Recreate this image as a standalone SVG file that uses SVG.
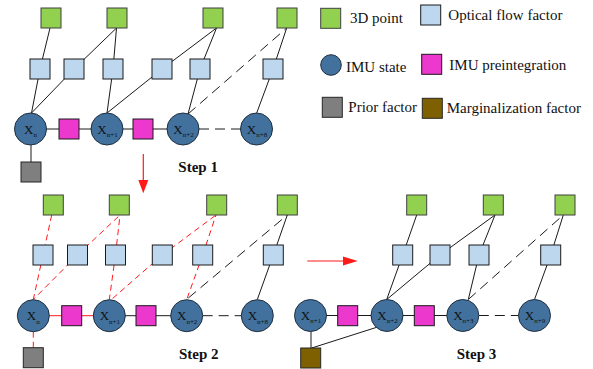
<svg xmlns="http://www.w3.org/2000/svg" width="593" height="369" viewBox="0 0 593 369">
<style>
.pt{fill:#92d050;stroke:#404040;stroke-width:1}
.of{fill:#bdd7ee;stroke:#1a1a1a;stroke-width:1}
.st{fill:#41719c;stroke:#1f2f40;stroke-width:1}
.pi{fill:#ec38cc;stroke:#1a1a1a;stroke-width:1}
.pr{fill:#7f7f7f;stroke:#262626;stroke-width:1}
.mg{fill:#7f6000;stroke:#262626;stroke-width:1}
.lbl{font-family:"Liberation Serif","Times New Roman",serif;font-size:13px;fill:#111;text-anchor:middle}
.sub{font-size:7px}
.lg{font-family:"Liberation Serif","Times New Roman",serif;font-size:15px;fill:#111}
.step{font-family:"Liberation Serif","Times New Roman",serif;font-size:15px;font-weight:bold;fill:#111}
.k{stroke:#1a1a1a;stroke-width:1;fill:none}
.kd{stroke:#1a1a1a;stroke-width:1;fill:none;stroke-dasharray:10,6}
.r{stroke:#ff1a1a;stroke-width:1;fill:none}
.rd{stroke:#ff1a1a;stroke-width:1;fill:none;stroke-dasharray:6,4}
</style>

<g id="connectors">
  <!-- Step 1 -->
  <line class="k" x1="50" y1="28" x2="40" y2="69"/>
  <line class="k" x1="40" y1="69" x2="31.5" y2="113"/>
  <line class="k" x1="74" y1="69" x2="31.5" y2="113"/>
  <line class="k" x1="74" y1="69" x2="116.5" y2="28"/>
  <line class="k" x1="113" y1="69" x2="116.5" y2="28"/>
  <line class="k" x1="113" y1="69" x2="107" y2="113"/>
  <line class="k" x1="162" y1="69" x2="107" y2="113"/>
  <line class="k" x1="162" y1="69" x2="216.5" y2="28"/>
  <line class="k" x1="200" y1="69" x2="216.5" y2="28"/>
  <line class="k" x1="200" y1="69" x2="188" y2="114"/>
  <line class="kd" x1="188" y1="114" x2="286.7" y2="28"/>
  <line class="k" x1="273" y1="69" x2="286.7" y2="28"/>
  <line class="k" x1="273" y1="69" x2="256.7" y2="113"/>
  <line class="k" x1="30.5" y1="129" x2="183" y2="129"/>
  <line class="kd" x1="199" y1="129" x2="241" y2="129"/>
  <line class="k" x1="31" y1="129" x2="31" y2="172"/>

  <!-- Step 2 -->
  <line class="rd" x1="51.7" y1="215" x2="43" y2="255"/>
  <line class="rd" x1="43" y1="255" x2="33.3" y2="299.5"/>
  <line class="rd" x1="77.5" y1="255" x2="33.3" y2="299.5"/>
  <line class="rd" x1="77.5" y1="255" x2="120" y2="215"/>
  <line class="rd" x1="115.5" y1="255" x2="120" y2="215"/>
  <line class="rd" x1="115.5" y1="255" x2="109.3" y2="299.5"/>
  <line class="rd" x1="162.3" y1="255" x2="112" y2="299"/>
  <line class="rd" x1="162.3" y1="255" x2="216" y2="215"/>
  <line class="rd" x1="202.7" y1="255" x2="216" y2="215"/>
  <line class="rd" x1="202.7" y1="255" x2="186.7" y2="299.5"/>
  <line class="kd" x1="188.3" y1="298" x2="287.3" y2="215"/>
  <line class="k" x1="273.3" y1="255" x2="287.3" y2="215"/>
  <line class="k" x1="273.3" y1="255" x2="257.3" y2="299.5"/>
  <line class="r" x1="33.3" y1="315.7" x2="109.3" y2="315.7"/>
  <line class="k" x1="109.3" y1="315.7" x2="186.7" y2="315.7"/>
  <line class="kd" x1="202.7" y1="315.7" x2="241.3" y2="315.7"/>
  <line class="rd" x1="33.3" y1="331.7" x2="33.3" y2="348"/>

  <!-- Step 3 -->
  <line class="k" x1="416.7" y1="215" x2="402.7" y2="255"/>
  <line class="k" x1="402.7" y1="255" x2="386.7" y2="299.5"/>
  <line class="k" x1="440" y1="255" x2="386.7" y2="299.5"/>
  <line class="k" x1="440" y1="255" x2="495" y2="215"/>
  <line class="k" x1="479" y1="255" x2="495" y2="215"/>
  <line class="k" x1="479" y1="255" x2="468.3" y2="299.5"/>
  <line class="kd" x1="468.3" y1="299.5" x2="563.3" y2="215"/>
  <line class="k" x1="550.7" y1="255" x2="563.3" y2="215"/>
  <line class="k" x1="550.7" y1="255" x2="534.5" y2="299.5"/>
  <line class="k" x1="310.5" y1="315.5" x2="462.8" y2="315.5"/>
  <line class="kd" x1="478.8" y1="315.5" x2="518.5" y2="315.5"/>
  <line class="k" x1="311" y1="315.5" x2="311" y2="358"/>
  <line class="k" x1="311.7" y1="348" x2="376.7" y2="327.3"/>

  <!-- step transition arrows -->
  <line x1="143.3" y1="154" x2="143.3" y2="181" stroke="#ff1a1a" stroke-width="1.2"/>
  <polygon points="138.3,180 148.3,180 143.3,193.3" fill="#ff1a1a"/>
  <line x1="307.3" y1="261" x2="344" y2="261" stroke="#ff1a1a" stroke-width="1.2"/>
  <polygon points="343,256.5 343,265.5 357.7,261" fill="#ff1a1a"/>
</g>

<!-- Step 1 nodes -->
<g id="s1-pt1"><rect class="pt" x="41" y="8" width="20" height="20"/></g>
<g id="s1-pt2"><rect class="pt" x="107" y="8" width="20" height="20"/></g>
<g id="s1-pt3"><rect class="pt" x="203" y="8" width="20" height="20"/></g>
<g id="s1-pt4"><rect class="pt" x="277" y="8" width="20" height="20"/></g>
<g id="s1-of1"><rect class="of" x="30" y="59" width="20" height="20"/></g>
<g id="s1-of2"><rect class="of" x="64" y="59" width="20" height="20"/></g>
<g id="s1-of3"><rect class="of" x="103" y="59" width="20" height="20"/></g>
<g id="s1-of4"><rect class="of" x="152" y="59" width="20" height="20"/></g>
<g id="s1-of5"><rect class="of" x="190" y="59" width="20" height="20"/></g>
<g id="s1-of6"><rect class="of" x="263" y="59" width="20" height="20"/></g>
<g id="s1-xn"><circle class="st" cx="30.5" cy="129" r="16"/><text class="lbl" x="30.5" y="133.5">X<tspan class="sub" dy="3.4">n</tspan></text></g>
<g id="s1-xn1"><circle class="st" cx="107" cy="129" r="16"/><text class="lbl" x="107.5" y="133.5">X<tspan class="sub" dy="3.4">n+1</tspan></text></g>
<g id="s1-xn2"><circle class="st" cx="183" cy="129" r="16"/><text class="lbl" x="183.5" y="133.5">X<tspan class="sub" dy="3.4">n+2</tspan></text></g>
<g id="s1-xn8"><circle class="st" cx="256.5" cy="129" r="16"/><text class="lbl" x="257" y="133.5">X<tspan class="sub" dy="3.4">n+8</tspan></text></g>
<g id="s1-pi1"><rect class="pi" x="59" y="119" width="20" height="20"/></g>
<g id="s1-pi2"><rect class="pi" x="133" y="119" width="20" height="20"/></g>
<g id="s1-prior"><rect class="pr" x="21" y="162" width="20" height="20"/></g>
<text class="step" x="178.3" y="171.7">Step 1</text>

<!-- Step 2 nodes -->
<g id="s2-pt1"><rect class="pt" x="43.3" y="195" width="20" height="20"/></g>
<g id="s2-pt2"><rect class="pt" x="109.3" y="195" width="20" height="20"/></g>
<g id="s2-pt3"><rect class="pt" x="206.7" y="195" width="20" height="20"/></g>
<g id="s2-pt4"><rect class="pt" x="277.3" y="195" width="20" height="20"/></g>
<g id="s2-of1"><rect class="of" x="33" y="245" width="20" height="20"/></g>
<g id="s2-of2"><rect class="of" x="67.5" y="245" width="20" height="20"/></g>
<g id="s2-of3"><rect class="of" x="105.5" y="245" width="20" height="20"/></g>
<g id="s2-of4"><rect class="of" x="152.3" y="245" width="20" height="20"/></g>
<g id="s2-of5"><rect class="of" x="192.7" y="245" width="20" height="20"/></g>
<g id="s2-of6"><rect class="of" x="263.3" y="245" width="20" height="20"/></g>
<g id="s2-xn"><circle class="st" cx="33.3" cy="315.7" r="16"/><text class="lbl" x="33.3" y="320.2">X<tspan class="sub" dy="3.4">n</tspan></text></g>
<g id="s2-xn1"><circle class="st" cx="109.3" cy="315.7" r="16"/><text class="lbl" x="109.8" y="320.2">X<tspan class="sub" dy="3.4">n+1</tspan></text></g>
<g id="s2-xn2"><circle class="st" cx="186.7" cy="315.7" r="16"/><text class="lbl" x="187.2" y="320.2">X<tspan class="sub" dy="3.4">n+2</tspan></text></g>
<g id="s2-xn8"><circle class="st" cx="257.3" cy="315.7" r="16"/><text class="lbl" x="257.8" y="320.2">X<tspan class="sub" dy="3.4">n+8</tspan></text></g>
<g id="s2-pi1"><rect class="pi" x="61.7" y="305.7" width="20" height="20"/></g>
<g id="s2-pi2"><rect class="pi" x="136" y="305.7" width="20" height="20"/></g>
<g id="s2-prior"><rect class="pr" x="23.3" y="347.7" width="20" height="20"/></g>
<text class="step" x="179" y="359">Step 2</text>

<!-- Step 3 nodes -->
<g id="s3-pt1"><rect class="pt" x="406.7" y="195" width="20" height="20"/></g>
<g id="s3-pt2"><rect class="pt" x="483.3" y="195" width="20" height="20"/></g>
<g id="s3-pt3"><rect class="pt" x="555" y="195" width="20" height="20"/></g>
<g id="s3-of1"><rect class="of" x="392.7" y="245" width="20" height="20"/></g>
<g id="s3-of2"><rect class="of" x="430" y="245" width="20" height="20"/></g>
<g id="s3-of3"><rect class="of" x="469" y="245" width="20" height="20"/></g>
<g id="s3-of4"><rect class="of" x="540.7" y="245" width="20" height="20"/></g>
<g id="s3-xn1"><circle class="st" cx="310.5" cy="315.5" r="16"/><text class="lbl" x="311" y="320">X<tspan class="sub" dy="3.4">n+1</tspan></text></g>
<g id="s3-xn2"><circle class="st" cx="387" cy="315.5" r="16"/><text class="lbl" x="387.5" y="320">X<tspan class="sub" dy="3.4">n+2</tspan></text></g>
<g id="s3-xn3"><circle class="st" cx="462.8" cy="315.5" r="16"/><text class="lbl" x="463.3" y="320">X<tspan class="sub" dy="3.4">n+3</tspan></text></g>
<g id="s3-xn9"><circle class="st" cx="534.5" cy="315.5" r="16"/><text class="lbl" x="535" y="320">X<tspan class="sub" dy="3.4">n+9</tspan></text></g>
<g id="s3-pi1"><rect class="pi" x="337.7" y="305.7" width="20" height="20"/></g>
<g id="s3-pi2"><rect class="pi" x="414.3" y="305.7" width="20" height="20"/></g>
<g id="s3-marg"><rect class="mg" x="300.7" y="348" width="20" height="20"/></g>
<text class="step" x="456.7" y="359">Step 3</text>

<!-- Legend -->
<g id="legend">
  <rect class="pt" x="320.7" y="8.3" width="20" height="20"/>
  <text class="lg" x="350" y="23.3">3D point</text>
  <rect class="of" x="420.7" y="5" width="20" height="20"/>
  <text class="lg" x="448.3" y="20">Optical flow factor</text>
  <circle class="st" cx="331" cy="65" r="10.3"/>
  <text class="lg" x="346" y="71.7">IMU state</text>
  <rect class="pi" x="421.7" y="54.3" width="20" height="20"/>
  <text class="lg" x="449.3" y="70">IMU preintegration</text>
  <rect class="pr" x="322.3" y="97.3" width="20" height="20"/>
  <text class="lg" x="348.3" y="111.7">Prior factor</text>
  <rect class="mg" x="422.3" y="98.3" width="20" height="20"/>
  <text class="lg" x="446.7" y="112.7">Marginalization factor</text>
</g>
</svg>
